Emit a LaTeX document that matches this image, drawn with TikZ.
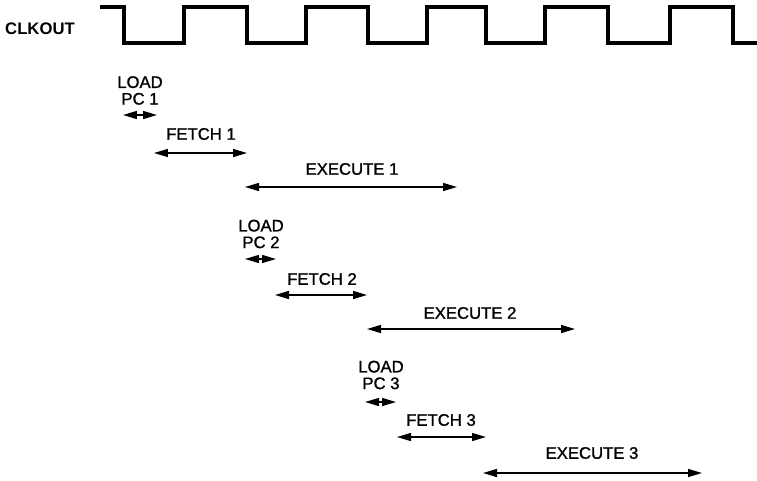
\documentclass[tikz,border=0pt]{standalone}
\usepackage{fontspec}
\setmainfont{Liberation Sans}
\newfontfamily\scanfont[FakeBold=1.2]{Liberation Sans}
\usetikzlibrary{arrows.meta}

\begin{document}
\begin{tikzpicture}[x=0.02cm, y=-0.02cm,
  wave/.style = {line width=1.9pt, line join=miter},
  span/.style = {line width=0.8pt, {Triangle[length=0.28cm, width=0.16cm]}-{Triangle[length=0.28cm, width=0.16cm]}},
  lbl/.style = {inner sep=0pt, align=center, font=\scanfont\fontsize{9.5}{9.5}\selectfont}]

\useasboundingbox (0,0) rectangle (757,480);

\node[lbl, font=\bfseries\fontsize{9.5}{9.5}\selectfont] (clk) at (40,29) {CLKOUT};
\draw[wave] (100,7) -- (124,7) -- (124,43) -- (184,43) -- (184,7) -- (247,7) -- (247,43)
  -- (306,43) -- (306,7) -- (368,7) -- (368,43) -- (427,43) -- (427,7) -- (486,7)
  -- (486,43) -- (545,43) -- (545,7) -- (608,7) -- (608,43) -- (670,43) -- (670,7)
  -- (733,7) -- (733,43) -- (758,43);

\coordinate (load1a) at (123,115);
\coordinate (load1b) at (157,115);
\coordinate (fetch1a) at (154,153);
\coordinate (fetch1b) at (247,153);
\coordinate (exec1a) at (245,187);
\coordinate (exec1b) at (457,187);

\node[lbl] (load1) at (140,90.5) {LOAD\\PC 1};
\node[lbl] (fetch1) at (201,134) {FETCH 1};
\node[lbl] (exec1) at (352,169) {EXECUTE 1};
\draw[span] (load1a) -- (load1b);
\draw[span] (fetch1a) -- (fetch1b);
\draw[span] (exec1a) -- (exec1b);

\coordinate (load2a) at (245,259);
\coordinate (load2b) at (276,259);
\coordinate (fetch2a) at (275,295);
\coordinate (fetch2b) at (367,295);
\coordinate (exec2a) at (367,329);
\coordinate (exec2b) at (575,329);

\node[lbl] (load2) at (261,234) {LOAD\\PC 2};
\node[lbl] (fetch2) at (322,279) {FETCH 2};
\node[lbl] (exec2) at (470,313) {EXECUTE 2};
\draw[span] (load2a) -- (load2b);
\draw[span] (fetch2a) -- (fetch2b);
\draw[span] (exec2a) -- (exec2b);

\coordinate (load3a) at (365,402);
\coordinate (load3b) at (396,402);
\coordinate (fetch3a) at (397,437);
\coordinate (fetch3b) at (486,437);
\coordinate (exec3a) at (483,473);
\coordinate (exec3b) at (702,473);

\node[lbl] (load3) at (381,375) {LOAD\\PC 3};
\node[lbl] (fetch3) at (441,420) {FETCH 3};
\node[lbl] (exec3) at (592,453) {EXECUTE 3};
\draw[span] (load3a) -- (load3b);
\draw[span] (fetch3a) -- (fetch3b);
\draw[span] (exec3a) -- (exec3b);

\end{tikzpicture}
\end{document}
